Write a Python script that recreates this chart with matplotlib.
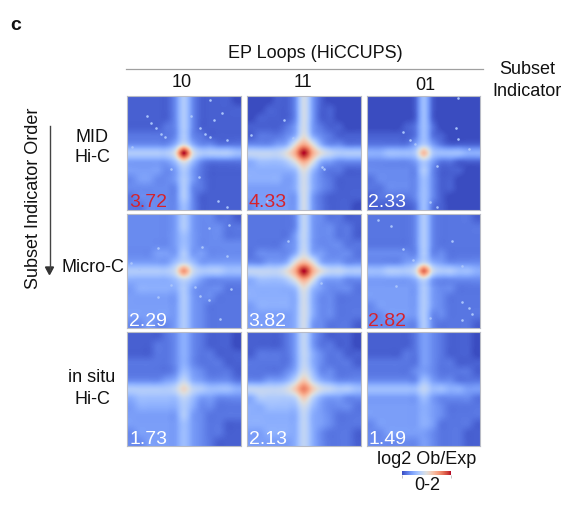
import matplotlib
matplotlib.use("Agg")
import numpy as np
import matplotlib.pyplot as plt
from matplotlib.cm import ScalarMappable
from matplotlib.colors import Normalize

plt.rcParams["font.family"] = ["Liberation Sans", "DejaVu Sans"]

W, H = 572, 508

col_labels = ["10", "11", "01"]
scores = [["3.72", "4.33", "2.33"],
          ["2.29", "3.82", "2.82"],
          ["1.73", "2.13", "1.49"]]
score_red = [[True, True, False],
             [False, False, True],
             [False, False, False]]

# heatmap values, tenths of the 0-2 scale, coarse bins
mid_10 = [[1,1,1,1,1,3,7,3,1,1,1,1,0],
          [1,1,1,1,1,3,7,3,1,1,1,1,1],
          [1,1,1,1,1,3,7,3,1,1,1,1,1],
          [1,1,1,1,2,3,7,3,1,1,1,1,1],
          [2,2,2,2,2,3,7,3,2,1,1,1,1],
          [3,3,3,3,3,5,9,5,3,3,2,2,2],
          [7,7,7,7,7,10,20,10,7,7,7,7,6],
          [4,4,4,4,4,6,10,6,3,2,2,2,2],
          [4,4,4,4,3,4,7,4,2,1,1,1,1],
          [3,4,4,3,3,4,7,4,2,1,1,1,1],
          [3,3,3,3,3,3,7,3,2,1,1,1,1],
          [2,3,3,3,3,3,7,3,1,1,1,1,1],
          [2,2,3,3,3,3,6,3,1,1,1,1,1]]
mid_11 = [[0,0,0,1,1,3,9,4,1,0,0,0,0],
          [0,0,1,1,1,3,9,4,1,1,0,0,0],
          [0,1,1,1,1,3,9,4,1,1,0,0,0],
          [1,1,1,1,2,4,9,4,2,1,1,0,0],
          [1,2,2,2,3,5,10,5,3,2,1,1,1],
          [3,3,3,4,5,10,14,10,5,3,3,2,2],
          [8,8,8,8,10,14,20,14,10,8,7,7,7],
          [5,6,6,6,7,10,14,10,5,4,3,3,3],
          [5,5,5,5,5,6,10,6,3,2,2,1,1],
          [5,5,5,5,4,5,9,5,3,2,1,1,1],
          [4,4,4,4,4,5,9,5,3,2,1,1,1],
          [4,4,4,4,4,4,9,4,2,1,1,1,1],
          [3,4,4,4,4,4,9,4,2,1,1,1,0]]
mid_01 = [[0,0,0,0,0,1,6,1,0,0,0,0,0],
          [0,0,0,0,0,1,6,1,0,0,0,0,0],
          [0,0,0,0,0,1,6,1,0,0,0,0,0],
          [0,0,0,0,1,2,6,2,0,0,0,0,0],
          [1,1,1,1,1,2,6,2,1,0,0,0,0],
          [2,2,2,2,2,4,7,4,2,1,1,1,1],
          [5,5,6,6,6,7,13,7,6,6,6,5,5],
          [3,3,3,3,3,4,7,4,2,2,1,1,1],
          [3,3,3,3,3,3,7,3,1,1,1,0,0],
          [2,3,3,3,3,3,6,3,1,1,0,0,0],
          [2,2,3,3,3,3,6,3,1,1,0,0,0],
          [1,2,2,2,2,3,6,3,1,0,0,0,0],
          [1,1,1,1,1,2,6,2,1,0,0,0,0]]
micro_10 = [[3,3,3,3,3,4,7,4,3,3,2,2,1],
            [3,3,3,3,3,4,7,4,3,3,3,2,2],
            [3,3,3,3,3,4,6,4,3,3,3,2,2],
            [3,3,3,3,3,4,6,4,3,3,3,3,3],
            [3,3,3,4,4,4,7,4,4,3,3,3,3],
            [4,4,4,4,4,6,8,6,4,4,4,4,4],
            [7,7,7,7,7,9,15,9,7,7,7,6,6],
            [5,5,5,5,5,6,8,6,4,3,3,3,3],
            [4,5,5,5,5,5,7,4,3,3,3,2,2],
            [4,4,4,4,4,4,7,4,3,3,2,2,2],
            [4,4,4,4,4,4,7,4,3,2,2,2,2],
            [4,4,4,4,4,4,7,4,3,2,2,2,2],
            [3,3,4,3,3,4,7,4,3,2,2,2,2]]
micro_11 = [[2,2,2,2,2,3,8,4,3,2,2,1,1],
            [2,2,2,2,2,3,8,4,3,3,2,2,1],
            [2,2,2,2,2,4,8,4,3,3,2,2,1],
            [2,2,2,2,3,4,8,4,3,3,3,2,2],
            [2,3,3,3,3,5,9,5,4,3,3,3,2],
            [3,3,4,4,5,10,13,10,5,4,4,3,3],
            [8,8,8,8,10,14,20,14,10,8,8,7,7],
            [5,6,6,6,7,10,14,10,5,4,4,3,3],
            [5,5,5,5,5,6,10,6,4,3,3,3,2],
            [5,5,5,5,5,5,9,5,3,3,2,2,2],
            [4,5,5,5,5,5,9,5,3,3,2,2,2],
            [4,4,4,4,4,5,9,5,3,3,2,2,2],
            [4,4,4,4,4,5,9,4,3,2,2,2,1]]
micro_01 = [[2,2,2,2,2,3,7,3,2,2,2,2,1],
            [2,2,2,2,2,3,7,3,2,2,2,2,2],
            [2,2,2,2,2,3,7,3,2,2,2,2,2],
            [2,2,2,2,2,3,7,3,2,2,2,2,2],
            [3,3,3,3,3,3,7,3,3,2,2,2,2],
            [3,3,3,3,4,5,8,5,4,3,3,3,3],
            [6,6,7,7,7,9,17,9,7,7,6,6,5],
            [4,4,4,4,4,5,8,4,3,3,3,3,3],
            [4,4,4,4,4,4,7,4,3,3,2,2,2],
            [4,4,4,4,4,4,7,4,3,2,2,2,2],
            [3,4,4,4,4,4,7,4,3,2,2,2,2],
            [3,3,4,4,4,4,7,3,3,2,2,2,2],
            [3,3,3,3,3,3,7,3,2,2,2,2,1]]
situ_10 = [[1,1,1,1,2,3,5,3,2,1,1,1,0],
           [1,1,1,2,2,3,5,3,2,1,1,1,0],
           [1,1,1,2,2,3,5,3,2,2,1,1,1],
           [2,2,2,2,2,3,5,3,2,2,2,1,1],
           [2,2,2,2,2,3,6,4,3,2,2,2,1],
           [3,3,3,3,4,5,8,5,4,3,3,3,2],
           [7,7,7,7,7,8,11,8,7,6,6,6,5],
           [5,6,6,6,6,6,8,6,4,4,3,3,3],
           [4,5,5,5,5,5,7,5,3,3,2,2,2],
           [4,4,4,4,4,4,7,4,3,2,2,2,2],
           [4,4,4,4,4,4,6,4,3,2,2,1,1],
           [3,4,4,4,4,4,6,4,3,2,2,1,1],
           [3,3,4,4,4,4,6,4,3,2,1,1,1]]
situ_11 = [[1,1,1,1,2,4,8,4,2,1,1,1,0],
           [1,1,1,1,2,4,8,4,2,2,1,1,0],
           [1,2,2,2,2,4,8,5,3,2,2,1,1],
           [2,2,2,2,2,4,8,5,3,2,2,2,1],
           [2,2,2,2,3,5,9,6,3,3,2,2,2],
           [3,3,4,4,5,8,12,8,5,4,3,3,3],
           [8,8,8,8,9,12,16,12,9,8,7,7,6],
           [5,7,7,7,7,8,12,8,5,4,4,3,3],
           [5,5,6,6,6,6,9,6,4,3,3,3,2],
           [5,5,5,5,5,5,8,5,4,3,2,2,2],
           [5,5,5,5,5,5,8,5,4,3,2,2,2],
           [4,4,5,5,5,5,8,5,3,2,2,2,1],
           [4,4,4,4,4,5,8,5,3,2,2,2,1]]
situ_01 = [[1,1,1,1,1,2,4,3,2,1,1,1,0],
           [1,1,1,1,1,2,4,3,2,1,1,1,0],
           [1,1,1,1,2,2,4,3,2,1,1,1,0],
           [2,2,2,2,2,2,4,3,2,2,1,1,1],
           [2,2,2,2,2,3,4,3,2,2,2,2,1],
           [3,3,3,3,3,3,6,4,3,3,2,2,2],
           [6,6,6,6,6,6,8,6,6,5,5,4,4],
           [4,4,4,4,4,4,6,4,3,3,3,3,2],
           [4,4,4,4,4,4,5,4,3,2,2,2,2],
           [4,4,4,4,4,4,5,4,3,2,2,2,2],
           [3,4,4,4,4,4,5,4,2,2,2,2,1],
           [3,3,4,4,4,4,4,3,2,2,2,1,1],
           [3,3,3,3,3,3,4,3,2,2,2,1,1]]

# bright off-centre pixels, (bin x, bin y) from the centre of each map
specks_mid_10 = [(-4.3,-4.2),(-3.8,-3.4),(-3.2,-2.8),(-2.6,-2.2),(-2.2,-1.8),(0.8,-4.2),(1.8,-2.8),
                 (2.4,-2.2),(2.9,-1.8),(4.9,-1.5),(1.7,2.8),(-1.5,1.8),(4.3,-4.6),(3.4,-3.8),
                 (3.9,5.5),(4.9,6.2),(-6.0,-0.7),(2.9,-6.1)]
specks_mid_11 = [(-2.3,-3.8),(2.1,1.6),(2.3,1.8),(-6.0,-2.0),(-1.2,-1.7),(-4.2,5.5)]
specks_mid_01 = [(-2.3,-2.4),(-1.5,-1.5),(-1.0,-1.0),(4.0,-6.3),(4.0,-1.6),(5.2,-0.4),(0.8,5.6),
                 (1.5,6.2),(1.5,1.5),(3.7,-2.9)]
specks_micro_10 = [(5.1,-5.3),(2.8,-4.9),(-6.1,-0.9),(-5.2,-0.3),(-3.0,-2.6),(2.0,-2.8),(4.9,-1.7),
                   (1.2,1.8),(1.8,2.8),(2.8,3.3),(-3.0,3.0),(5.3,2.0),(-1.5,1.6),(4.1,5.5)]
specks_micro_11 = [(-1.8,-3.4),(1.9,1.4)]
specks_micro_01 = [(-5.2,-5.8),(-3.7,-5.2),(-2.3,-2.5),(-1.2,-1.3),(3.3,-3.5),(4.4,-0.6),(4.4,3.5),
                   (5.2,4.2),(5.6,4.9),(-3.1,1.7),(0.8,5.4),(4.4,5.6)]

maps = [[mid_10, mid_11, mid_01],
        [micro_10, micro_11, micro_01],
        [situ_10, situ_11, situ_01]]
specks = [[specks_mid_10, specks_mid_11, specks_mid_01],
          [specks_micro_10, specks_micro_11, specks_micro_01],
          [[], [], []]]

col_left = [127.3, 247, 366.5]
row_top = [96, 214.3, 332.3]
side = 113.8


def add_ax(x0, y0, x1, y1):
    return fig.add_axes([x0 / W, 1 - y1 / H, (x1 - x0) / W, (y1 - y0) / H])


def txt(x, y, s, size=13, **kw):
    fig.text(x / W, 1 - y / H, s, fontsize=size, ha="center", va="center", color="#111111", **kw)


fig = plt.figure(figsize=(W / 100, H / 100), dpi=100)

for r in range(3):
    for c in range(3):
        ax = add_ax(col_left[c], row_top[r], col_left[c] + side, row_top[r] + side)
        ax.imshow(np.array(maps[r][c]), cmap="coolwarm", vmin=0, vmax=20,
                  interpolation="spline16", extent=(-6.5, 6.5, 6.5, -6.5), aspect="auto")
        if specks[r][c]:
            sx, sy = zip(*specks[r][c])
            ax.scatter(sx, sy, s=3.5, color="#a9c4fb", linewidths=0)
        ax.set_xlim(-6.5, 6.5)
        ax.set_ylim(6.5, -6.5)
        ax.set_xticks([])
        ax.set_yticks([])
        for sp in ax.spines.values():
            sp.set_color("#b9bcc6")
            sp.set_linewidth(0.8)
        ax.text(0.015, 0.06, scores[r][c], transform=ax.transAxes, fontsize=14, ha="left", va="center",
                color="#d5222c" if score_red[r][c] else "white")

txt(16, 25, "c", size=14, fontweight="bold")
txt(315, 53, "EP Loops (HiCCUPS)")
fig.add_artist(plt.Line2D([126 / W, 483 / W], [1 - 69 / H, 1 - 69 / H], color="#a0a0a0", lw=0.9))
for x, y, s in zip([182, 303, 425], [83, 83, 85], col_labels):
    txt(x, y, s)
txt(527, 70, "Subset")
txt(527, 92, "Indicator")
txt(92, 137, "MID")
txt(92, 158, "Hi-C")
txt(93, 268, "Micro-C")
txt(92, 378, "in situ")
txt(92, 400, "Hi-C")
txt(34, 198, "Subset Indicator Order", rotation=90)
fig.add_artist(plt.Line2D([49.5 / W, 49.5 / W], [1 - 126 / H, 1 - 270 / H], color="#444444", lw=1))
fig.add_artist(plt.Polygon([[45.5 / W, 1 - 267 / H], [53.5 / W, 1 - 267 / H], [49.5 / W, 1 - 274.5 / H]],
                           closed=True, color="#333333", transform=fig.transFigure))

txt(427, 459, "log2 Ob/Exp")
txt(427, 486, "0-2")
cax = add_ax(402, 470.5, 451, 475)
cb = fig.colorbar(ScalarMappable(Normalize(0, 2), "coolwarm"), cax=cax, orientation="horizontal")
cb.set_ticks([0, 2], labels=["", ""])
cb.ax.tick_params(length=2, width=0.6, color="#bbbbbb")
cb.outline.set_visible(False)

fig.savefig("out.png", dpi=100)
